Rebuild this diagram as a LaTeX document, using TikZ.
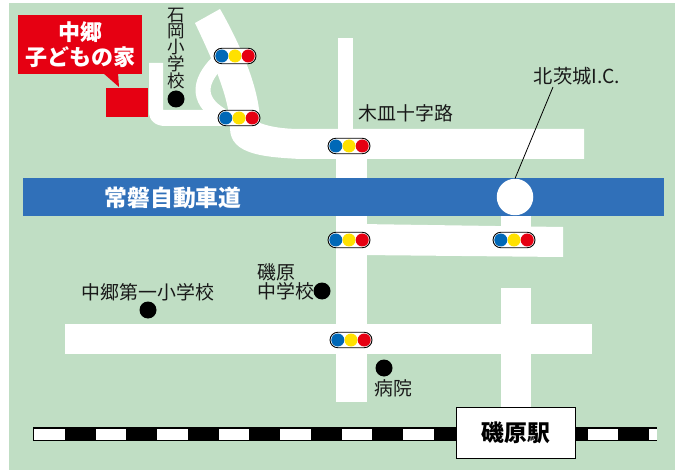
\documentclass[tikz,border=0pt]{standalone}
\usepackage{fontspec}
\setmainfont{Noto Sans CJK JP}
\usetikzlibrary{calc}
\definecolor{bgg}{HTML}{C0DEC4}
\definecolor{hwy}{HTML}{3070B9}
\definecolor{redc}{HTML}{E60012}
\definecolor{sigb}{HTML}{0068B7}
\definecolor{sigy}{HTML}{FFE100}
\tikzset{
 road/.style={fill=white,draw=none},
 label/.style={font=\fontsize{18.9}{19}\selectfont,text=black!90,inner sep=0pt},
 spot/.style={circle,fill=black,minimum size=17pt,inner sep=0pt},
 lamp/.style={circle,minimum size=13pt,inner sep=0pt},
 signal/.pic={
  \node[draw=black,line width=0.9pt,fill=white,rounded corners=7.8pt,minimum width=42pt,minimum height=15.5pt,inner sep=0pt] at (0,0) {};
  \node[lamp,fill=sigb] at (-13.2,0) {};
  \node[lamp,fill=sigy] at (0,0) {};
  \node[lamp,fill=redc] at (13.2,0) {};
 }
}
\begin{document}
\begin{tikzpicture}[x=1pt,y=-1pt]
\useasboundingbox (0,0) rectangle (682,470);
\fill[bgg] (9,3) rectangle (675,470);
% roads
\fill[road] (338,38) rectangle (353,135);
\fill[road] (336,155) rectangle (367,402);
\fill[road] (195,23) -- (220,9) .. controls (235,35) and (260,85) .. (260,123)
  .. controls (270,127) and (285,129) .. (300,129) -- (584,129) -- (584,159) -- (300,159)
  .. controls (265,157) and (230,155) .. (230,128) .. controls (230,100) and (215,65) .. cycle;
\fill[road] (360,224) -- (563,227) -- (563,257) -- (360,255) -- cycle;
\fill[road] (501,210) rectangle (531,228);
\fill[road] (65,324) rectangle (592,354);
\fill[road] (501,288) rectangle (531,415);
\fill[road] (149,63) -- (163,63) -- (163,110) -- (235,110) -- (235,126) -- (165,126)
  .. controls (155,126) and (149,120) .. (149,112) -- cycle;
\draw[white,line width=15pt] (218,62) .. controls (198,82) and (195,103) .. (228,119);
% highway
\fill[hwy] (23,178) rectangle (664,216);
\node[circle,fill=white,minimum size=36.5pt,inner sep=0pt] (ic) at (515,197) {};
\node[font=\bfseries\fontsize{22.8}{24}\selectfont,text=white,inner sep=0pt] (hw) at (173,198) {常磐自動車道};
% leader
\node[label,font=\fontsize{19.3}{19}\selectfont] (icl) at (577,76) {北茨城I.C.};
\coordinate (lead) at (553,87);
\draw[black,line width=0.8pt] (lead) -- (ic.north);
% railway
\fill[black] (33,427) rectangle (657,441);
\foreach \i in {0,...,9} {\fill[white] ({34+61.55*\i},428.5) rectangle ({64.5+61.55*\i},439.5);}
\fill[white] (649,428.5) rectangle (656.5,439.5);
\node[draw=black,line width=1pt,fill=white,minimum width=119pt,minimum height=51pt,inner sep=0pt,font=\bfseries\fontsize{22.8}{24}\selectfont] (st) at (515.7,432.5) {磯原駅};
% red
\fill[redc] (106,88) rectangle (148,117);
\fill[redc] (103,73) -- (119,87) -- (118,73) -- cycle;
\node[fill=redc,text=white,minimum width=124pt,minimum height=59pt,inner sep=0pt,align=center,font=\bfseries\fontsize{22}{25}\selectfont] (home) at (80,44.5) {中郷\\子どもの家};
% labels
\node[label,font=\fontsize{17.5}{16}\selectfont,align=center] (s1) at (176,48.5) {石\\岡\\小\\学\\校};
\node[spot] (d1) at (176,99) {};
\node[label] (s2) at (148,292) {中郷第一小学校};
\node[spot] (d2) at (148,310) {};
\node[label,anchor=west] (s3a) at (257,272) {磯原};
\node[label,anchor=west] (s3b) at (257,291) {中学校};
\node[spot] (d3) at (322,291) {};
\node[spot] (d4) at (384,368) {};
\node[label] (s4) at (393.5,388) {病院};
\node[label] (k) at (406,113) {木皿十字路};
% signals
\foreach \p in {(235,56),(239,118),(349,146),(349,240),(514,240),(351,340)} {\pic at \p {signal};}
\end{tikzpicture}
\end{document}
